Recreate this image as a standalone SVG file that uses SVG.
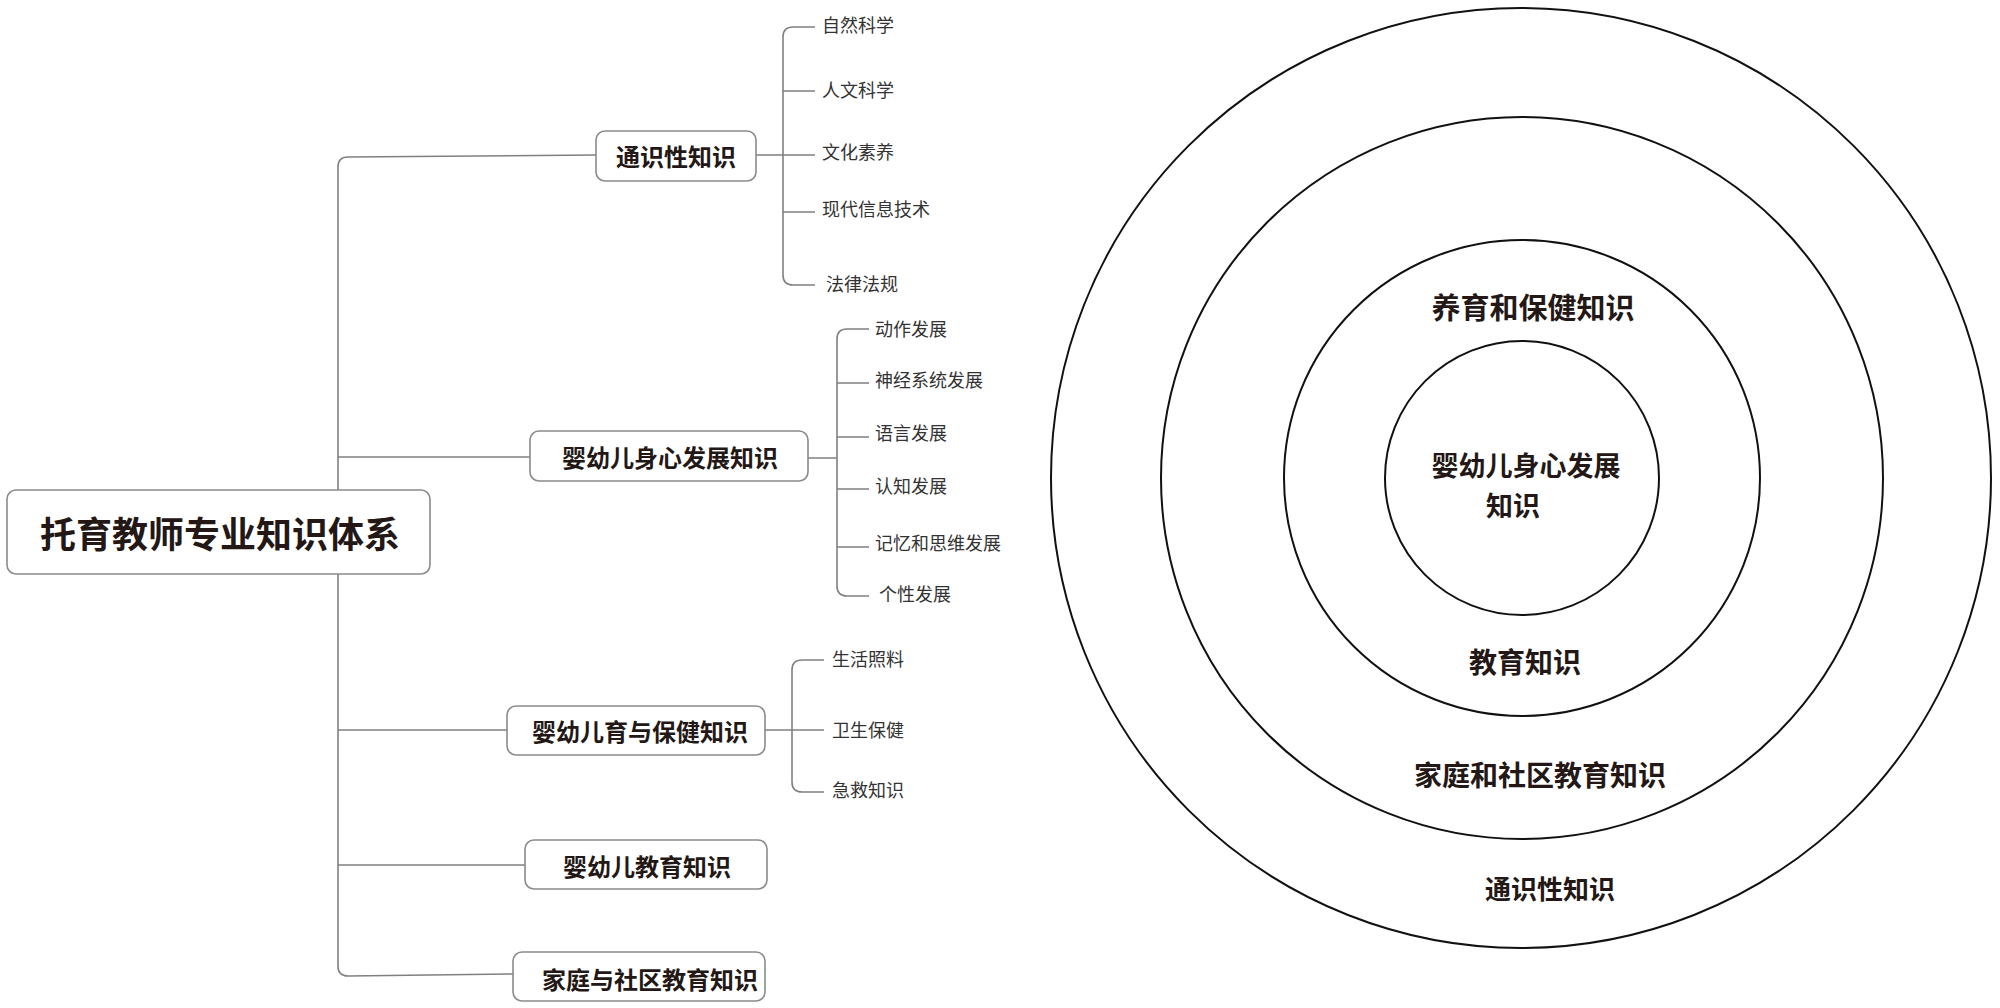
<svg xmlns="http://www.w3.org/2000/svg" width="2000" height="1008" viewBox="0 0 2000 1008">
<style>
.ln{fill:none;stroke:#808080;stroke-width:1.6}
.box{fill:#fff;stroke:#8a8a8a;stroke-width:1.6}
.t{font-family:"Noto Sans CJK SC","Noto Sans",sans-serif;fill:#231815;dominant-baseline:central}
.b{font-weight:bold}
.m{text-anchor:middle}
.s{font-size:18px;fill:#333}
.ring{fill:none;stroke:#111;stroke-width:2}
</style>
<rect width="2000" height="1008" fill="#fff"/>
<g id="connectors">
<path class="ln" d="M596 155 L348 157 Q338 157 338 167 L338 966 Q338 976 348 976 L513 974"/>
<path class="ln" d="M338 457 L530 457 M338 730 L507 730 M338 865 L525 865"/>
<path class="ln" d="M756 155 L815 155 M815 27 L793 27 Q783 27 783 37 L783 275 Q783 285 793 285 L815 285 M783 91 L815 91 M783 212 L815 212"/>
<path class="ln" d="M808 458 L837 458 M869 329 L847 329 Q837 329 837 339 L837 586 Q837 596 847 596 L869 596 M837 383 L869 383 M837 437 L869 437 M837 489 L869 489 M837 547 L869 547"/>
<path class="ln" d="M765 730 L824 730 M824 660 L802 660 Q792 660 792 670 L792 782 Q792 792 802 792 L824 792"/>
</g>
<g id="root"><rect class="box" x="7" y="490" width="423" height="84" rx="9"/><text class="t b m" x="220" y="532" font-size="36">托育教师专业知识体系</text></g>
<g id="n1"><rect class="box" x="596" y="131" width="160" height="50" rx="9"/><text class="t b m" x="676" y="155" font-size="24">通识性知识</text></g>
<g id="n2"><rect class="box" x="530" y="431" width="278" height="50" rx="9"/><text class="t b m" x="670" y="456" font-size="24">婴幼儿身心发展知识</text></g>
<g id="n3"><rect class="box" x="507" y="706" width="258" height="49" rx="9"/><text class="t b m" x="640" y="730" font-size="24">婴幼儿育与保健知识</text></g>
<g id="n4"><rect class="box" x="525" y="840" width="242" height="49" rx="9"/><text class="t b m" x="647" y="865" font-size="24">婴幼儿教育知识</text></g>
<g id="n5"><rect class="box" x="513" y="952" width="252" height="49" rx="9"/><text class="t b m" x="650" y="978" font-size="24">家庭与社区教育知识</text></g>
<g id="leaves1">
<text class="t s" x="822" y="24">自然科学</text>
<text class="t s" x="822" y="89">人文科学</text>
<text class="t s" x="822" y="151">文化素养</text>
<text class="t s" x="822" y="208">现代信息技术</text>
<text class="t s" x="826" y="283">法律法规</text>
</g>
<g id="leaves2">
<text class="t s" x="875" y="328">动作发展</text>
<text class="t s" x="875" y="379">神经系统发展</text>
<text class="t s" x="875" y="432">语言发展</text>
<text class="t s" x="875" y="485">认知发展</text>
<text class="t s" x="875" y="542">记忆和思维发展</text>
<text class="t s" x="879" y="593">个性发展</text>
</g>
<g id="leaves3">
<text class="t s" x="832" y="658">生活照料</text>
<text class="t s" x="832" y="729">卫生保健</text>
<text class="t s" x="832" y="789">急救知识</text>
</g>
<g id="rings">
<circle class="ring" cx="1521" cy="478" r="470"/>
<circle class="ring" cx="1522" cy="478" r="361"/>
<circle class="ring" cx="1522" cy="478" r="238"/>
<circle class="ring" cx="1522" cy="478" r="137"/>
<text class="t b m" x="1533" y="306" font-size="29">养育和保健知识</text>
<text class="t b m" x="1526" y="464" font-size="27">婴幼儿身心发展</text>
<text class="t b m" x="1513" y="504" font-size="27">知识</text>
<text class="t b m" x="1525" y="661" font-size="28">教育知识</text>
<text class="t b m" x="1540" y="774" font-size="28">家庭和社区教育知识</text>
<text class="t b m" x="1550" y="887" font-size="26">通识性知识</text>
</g>
</svg>
